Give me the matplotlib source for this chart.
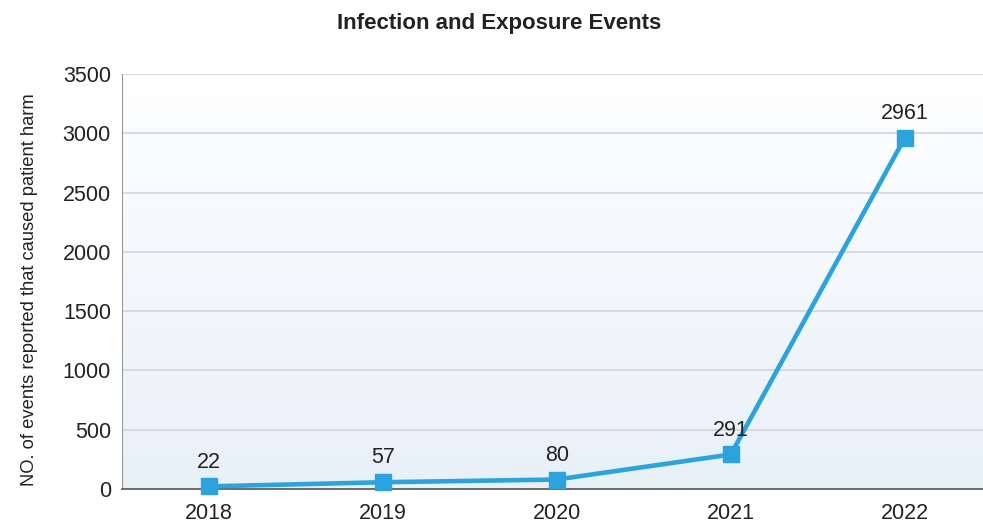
import matplotlib
matplotlib.use("Agg")
import matplotlib.pyplot as plt
import numpy as np

years = ["2018", "2019", "2020", "2021", "2022"]
events = [22, 57, 80, 291, 2961]
yticks = [0, 500, 1000, 1500, 2000, 2500, 3000, 3500]

plt.rcParams["font.family"] = ["Liberation Sans", "DejaVu Sans"]

fig = plt.figure(figsize=(9.83, 5.24), dpi=100)
ax = fig.add_axes([122 / 983, 1 - 489 / 524, 861 / 983, 415 / 524])

x = np.arange(len(years))

# Hintergrund-Verlauf: unten hellblau, oben weiss
grad = np.linspace(0, 1, 256).reshape(-1, 1)
cmap = matplotlib.colors.LinearSegmentedColormap.from_list("bg", ["#e8f0f8", "#ffffff"])
ax.imshow(grad, extent=[-0.5, 4.45, 0, 3500], aspect="auto", cmap=cmap,
          zorder=0, origin="lower")
ax.set_xlim(-0.5, 4.45)
ax.set_ylim(0, 3500)

ax.set_yticks(yticks)
ax.grid(axis="y", color="#cfd2d6", linewidth=1.1, zorder=1)
ax.set_axisbelow(True)

ax.plot(x, events, color="#2ca3dd", linewidth=3.3, marker="s", markersize=11,
        zorder=3, clip_on=False)
for xi, v in zip(x, events):
    ax.annotate(str(v), (xi, v), xytext=(0, 10), textcoords="offset points",
                ha="center", va="bottom", fontsize=15.5, color="#222222")

ax.set_xticks(x)
ax.set_xticklabels(years)
ax.tick_params(axis="both", length=0, labelsize=15.5, colors="#222222")
ax.tick_params(axis="x", pad=10)
ax.tick_params(axis="y", pad=8)

for s in ("top", "right"):
    ax.spines[s].set_visible(False)
ax.spines["left"].set_color("#9a9a9a")
ax.spines["bottom"].set_color("#555555")
ax.spines["bottom"].set_linewidth(1.2)

ax.set_ylabel("NO. of events reported that caused patient harm", fontsize=13.2,
              color="#222222")
ax.yaxis.set_label_coords(-0.097, 0.48)
fig.suptitle("Infection and Exposure Events", fontsize=16, fontweight="bold",
             color="#222222", x=0.508, y=0.975)

fig.savefig("out.png", dpi=100)
